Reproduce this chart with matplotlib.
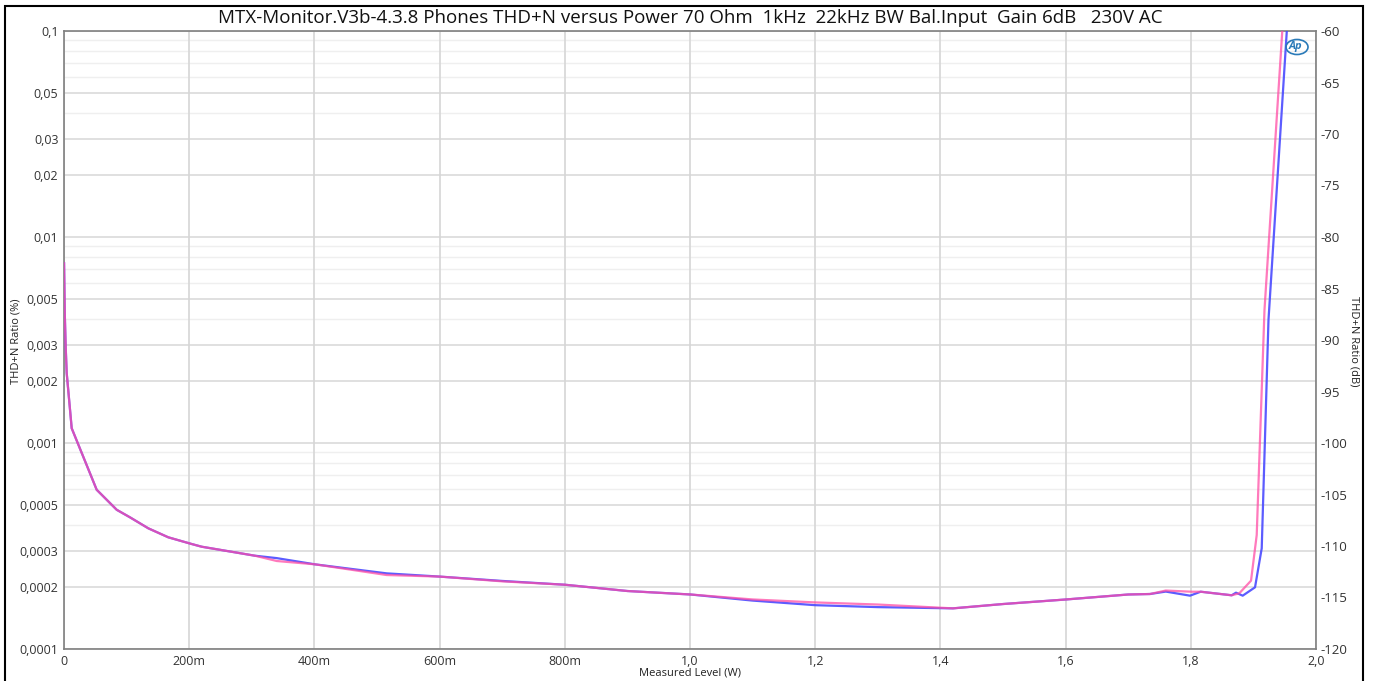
import matplotlib
matplotlib.use("Agg")
import matplotlib.pyplot as plt
from matplotlib.patches import Rectangle, Ellipse
from matplotlib.ticker import FixedLocator, NullFormatter

# ---- data ----
blue_x = [0.0001, 0.0013, 0.0027, 0.0043, 0.0123, 0.0522, 0.0842, 0.1054, 0.1347, 0.1666,
          0.204, 0.22, 0.305, 0.3398, 0.401, 0.5155, 0.6006, 0.7, 0.8003, 0.9, 1.001,
          1.1, 1.2, 1.3, 1.42, 1.5, 1.6, 1.7, 1.7348, 1.76, 1.7987, 1.8158, 1.8653,
          1.8722, 1.8829, 1.9026, 1.9133, 1.9241, 1.9575]
blue_y = [0.00745, 0.00418, 0.002934, 0.002187, 0.001179, 0.000593, 0.000474, 0.0004357,
          0.0003853, 0.0003485, 0.0003233, 0.0003137, 0.0002837, 0.0002762, 0.0002576,
          0.0002329, 0.0002246, 0.000214, 0.0002051, 0.0001912, 0.0001839, 0.0001718,
          0.0001632, 0.0001597, 0.0001575, 0.0001653, 0.0001739, 0.0001839, 0.0001849,
          0.00019, 0.0001815, 0.0001897, 0.0001823, 0.0001877, 0.0001815, 0.0001993,
          0.0003082, 0.003955, 0.158]

pink_x = [0.0001, 0.0013, 0.0027, 0.0043, 0.0123, 0.0522, 0.0842, 0.1054, 0.1347, 0.1666,
          0.204, 0.22, 0.305, 0.3398, 0.401, 0.5155, 0.6006, 0.7, 0.8003, 0.9, 1.001,
          1.1, 1.2, 1.3, 1.42, 1.5, 1.6, 1.7, 1.7348, 1.76, 1.8014, 1.8158, 1.8653,
          1.8775, 1.8962, 1.9053, 1.9177, 1.9503]
pink_y = [0.00745, 0.00418, 0.002934, 0.002187, 0.001179, 0.000593, 0.000474, 0.0004357,
          0.0003853, 0.0003485, 0.0003233, 0.0003137, 0.0002837, 0.0002674, 0.0002576,
          0.0002286, 0.0002246, 0.000213, 0.0002051, 0.0001912, 0.0001839, 0.000174,
          0.0001683, 0.0001644, 0.0001575, 0.0001653, 0.0001739, 0.0001839, 0.0001849,
          0.0001922, 0.0001897, 0.0001897, 0.0001823, 0.0001864, 0.0002146, 0.0003576,
          0.004419, 0.158]

x_ticks = [0, 0.2, 0.4, 0.6, 0.8, 1.0, 1.2, 1.4, 1.6, 1.8, 2.0]
x_labels = ["0", "200m", "400m", "600m", "800m", "1,0", "1,2", "1,4", "1,6", "1,8", "2,0"]
y_ticks = [0.1, 0.05, 0.03, 0.02, 0.01, 0.005, 0.003, 0.002, 0.001, 0.0005, 0.0003, 0.0002, 0.0001]
y_labels = ["0,1", "0,05", "0,03", "0,02", "0,01", "0,005", "0,003", "0,002", "0,001",
            "0,0005", "0,0003", "0,0002", "0,0001"]
db_ticks = list(range(-120, -59, 5))
db_labels = [str(t) for t in db_ticks]

title = "MTX-Monitor.V3b-4.3.8 Phones THD+N versus Power 70 Ohm  1kHz  22kHz BW Bal.Input  Gain 6dB   230V AC"

plt.rcParams['font.family'] = ['Open Sans', 'DejaVu Sans']

W, H = 1374, 681
fig = plt.figure(figsize=(W / 100, H / 100), dpi=100)
ax = fig.add_axes([64 / W, 1 - 649 / H, (1316 - 64) / W, (649 - 31) / H])

# frame around whole figure (bottom edge runs off the image)
fig.patches.append(Rectangle((5 / W, -10 / H), (1363 - 5) / W, (685) / H, transform=fig.transFigure,
                             fill=False, edgecolor='black', linewidth=1.5))

ax.set_yscale('log')
ax.set_xlim(0, 2.0)
ax.set_ylim(0.0001, 0.1)

# minor grid lines
minor_vals = []
for dec in [0.0001, 0.001, 0.01]:
    for m in range(2, 10):
        v = dec * m
        if not any(abs(v - t) / t < 1e-6 for t in y_ticks):
            minor_vals.append(v)
for v in minor_vals:
    ax.axhline(v, color='#efefef', linewidth=1.0, zorder=0)
for v in y_ticks:
    ax.axhline(v, color='#dadada', linewidth=1.2, zorder=0.5)
for v in x_ticks:
    ax.axvline(v, color='#d6d6d6', linewidth=1.2, zorder=0.5)

ax.plot(blue_x, blue_y, color='#4a4aff', linewidth=1.6, alpha=0.9, zorder=3)
ax.plot(pink_x, pink_y, color='#ff4da6', linewidth=1.6, alpha=0.75, zorder=3)

ax.yaxis.set_major_locator(FixedLocator(y_ticks))
ax.yaxis.set_minor_locator(FixedLocator([]))
ax.yaxis.set_minor_formatter(NullFormatter())
ax.set_yticklabels(y_labels)
ax.set_xticks(x_ticks)
ax.set_xticklabels(x_labels)
ax.tick_params(axis='both', which='both', length=0, labelsize=9, colors='#333333', pad=4)
ax.tick_params(axis='x', pad=4)

for s in ax.spines.values():
    s.set_color('#7f7f7f')
    s.set_linewidth(1.2)

ax2 = ax.twinx()
ax2.set_ylim(-120, -60)
ax2.set_yticks(db_ticks)
ax2.set_yticklabels(db_labels)
ax2.tick_params(axis='y', length=0, labelsize=9.5, colors='#333333', pad=3)
for s in ax2.spines.values():
    s.set_visible(False)

fig.text(690 / W, 1 - 18 / H, title, ha='center', va='center', fontsize=13.5, color='#111111')
fig.text(16 / W, 1 - 341 / H, "THD+N Ratio (%)", rotation=90, ha='center', va='center',
         fontsize=8, color='#222222')
fig.text(1354 / W, 1 - 341 / H, "THD+N Ratio (dB)", rotation=270, ha='center', va='center',
         fontsize=8, color='#222222')
fig.text(690 / W, 1 - 673 / H, "Measured Level (W)", ha='center', va='center',
         fontsize=8, color='#222222')

# AP logo
fig.patches.append(Ellipse((1297 / W, 1 - 47 / H), 22 / W, 15 / H, transform=fig.transFigure,
                           fill=False, edgecolor='#2a7ab8', linewidth=1.2))
fig.text(1295 / W, 1 - 47 / H, "Ap", ha='center', va='center', fontsize=8, color='#2a7ab8',
         fontweight='bold', style='italic')

fig.savefig("out.png", dpi=100, facecolor='white')
